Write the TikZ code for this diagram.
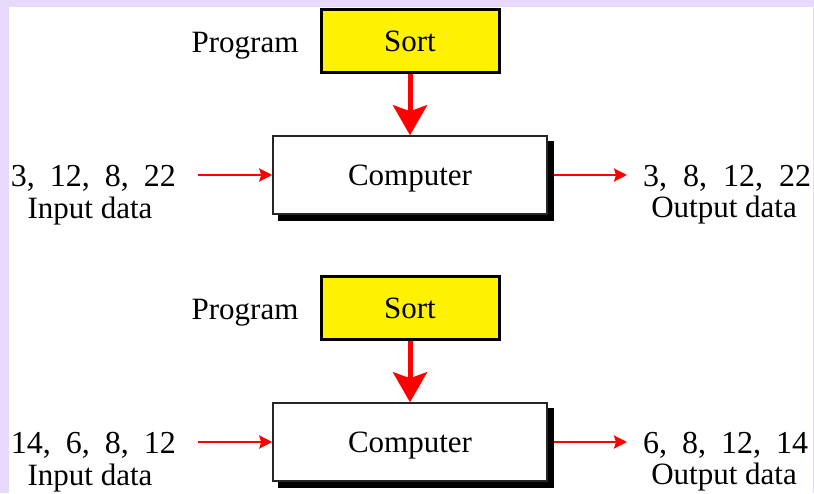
\documentclass[tikz,border=0pt]{standalone}
\usepackage{fontspec}
\setmainfont{Liberation Serif}
\usetikzlibrary{arrows.meta,shadows}
\definecolor{lav}{RGB}{232,217,252}
\definecolor{arrred}{RGB}{255,0,0}
\begin{document}
\begin{tikzpicture}[x=1pt,y=-1pt,
  txt/.style={font=\fontsize{31}{34}\selectfont, inner sep=0pt, text height=21pt, text depth=0pt},
  numtxt/.style={font=\fontsize{32}{36}\selectfont, inner sep=0pt, text height=22pt, text depth=0pt},
  sortbox/.style={draw=black, line width=3pt, fill=yellow, minimum width=178pt, minimum height=63pt, inner sep=0pt, text height=21pt, text depth=0pt, font=\fontsize{31}{34}\selectfont},
  compbox/.style={draw=black!85, line width=1.5pt, fill=white, minimum width=274pt, minimum height=78pt, inner sep=0pt, text height=21pt, text depth=0pt, font=\fontsize{31}{34}\selectfont,
    copy shadow={shadow xshift=6pt, shadow yshift=-6pt, fill=black, draw=black}},
  bigarrow/.style={draw=arrred, line width=5pt, -{Stealth[width=34pt,length=30pt,inset=6pt]}},
  thinarrow/.style={draw=arrred, line width=2.5pt, -{Stealth[width=13pt,length=13pt,inset=2pt]}}
]
\useasboundingbox (0,0) rectangle (814,493);
\fill[lav] (0,0) rectangle (814,493);
\fill[white] (9,7) rectangle (813,493);

% Panel 1
\node[sortbox] (sort1) at (410,40.5) {Sort};
\node[txt] (prog1) at (245,42) {Program};
\node[compbox] (comp1) at (410,175) {Computer};
\node[numtxt, anchor=east] (in1) at (176,175) {3,\hspace{7pt} 12,\hspace{7pt} 8,\hspace{7pt} 22};
\node[txt] (inl1) at (90,208) {Input data};
\node[numtxt, anchor=west] (out1) at (643,175) {3,\hspace{8pt} 8,\hspace{8pt} 12,\hspace{8pt} 22};
\node[txt] (outl1) at (724,207) {Output data};
\draw[bigarrow] (sort1) -- (comp1);
\draw[thinarrow, shorten <=22pt] (in1.east) -- (comp1.west);
\draw[thinarrow, shorten <=6pt, shorten >=16pt] (comp1.east) -- (out1.west);

% Panel 2
\node[sortbox] (sort2) at (410,307.5) {Sort};
\node[txt] (prog2) at (245,309) {Program};
\node[compbox] (comp2) at (410,442) {Computer};
\node[numtxt, anchor=east] (in2) at (176,442) {14,\hspace{7pt} 6,\hspace{7pt} 8,\hspace{7pt} 12};
\node[txt] (inl2) at (90,475) {Input data};
\node[numtxt, anchor=west] (out2) at (643,442) {6,\hspace{7pt} 8,\hspace{7pt} 12,\hspace{7pt} 14};
\node[txt] (outl2) at (724,474) {Output data};
\draw[bigarrow] (sort2) -- (comp2);
\draw[thinarrow, shorten <=22pt] (in2.east) -- (comp2.west);
\draw[thinarrow, shorten <=6pt, shorten >=16pt] (comp2.east) -- (out2.west);
\end{tikzpicture}
\end{document}
